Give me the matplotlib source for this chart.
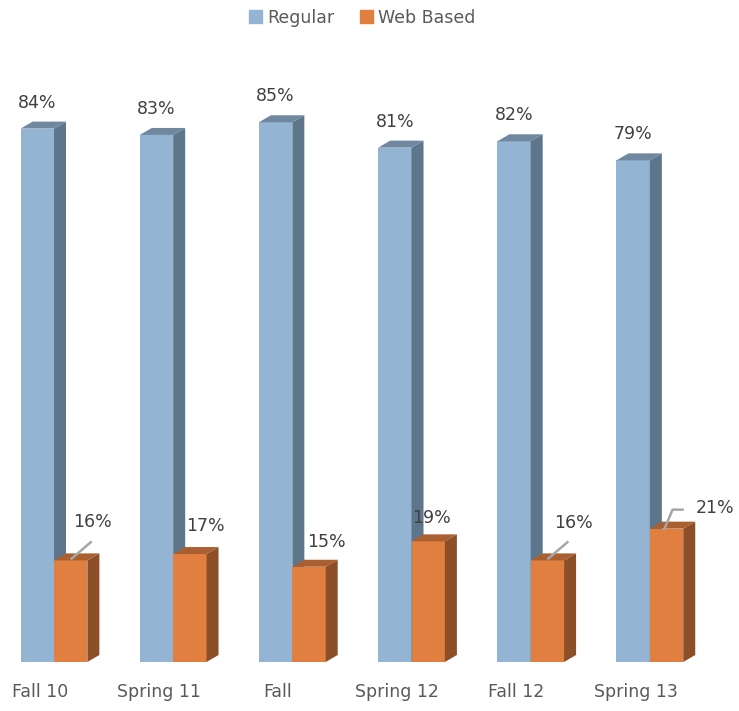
import numpy as np
import matplotlib.pyplot as plt
from matplotlib.patches import Polygon, Patch

# data
terms = ["Fall 10", "Spring 11", "Fall", "Spring 12", "Fall 12", "Spring 13"]
regular = [84, 83, 85, 81, 82, 79]
web_based = [16, 17, 15, 19, 16, 21]

# colours: front, side, top
blue = ("#93B4D2", "#5E768C", "#6F889F")
orange = ("#E07F3F", "#8C4F28", "#A95F30")

plt.rcParams['font.family'] = ['DejaVu Sans']
text_color = "#404040"

fig = plt.figure(figsize=(7.39, 7.11), dpi=100)
# axes chosen so 1 category = ~119 px and 1% = ~6.35 px
ax = fig.add_axes([0.0005, 49 / 711, 721 / 739, 635 / 711])
ax.set_xlim(-0.45, 5.6)
ax.set_ylim(0, 100)

px_x = 1 / 119.2   # one pixel in category units
px_y = 1 / 6.35    # one pixel in percent
depth_x = 12 * px_x
depth_y = 7 * px_y
width = 0.28


def bar3d(left, h, colors, z):
	"""draw a bar with a fake 3d side and top"""
	ax.bar(left, h, width, align='edge', color=colors[0], zorder=z)
	side = Polygon([(left + width, 0), (left + width + depth_x, depth_y),
	                (left + width + depth_x, h + depth_y), (left + width, h)],
	               closed=True, facecolor=colors[1], edgecolor='none', zorder=z)
	top = Polygon([(left, h), (left + depth_x, h + depth_y),
	               (left + width + depth_x, h + depth_y), (left + width, h)],
	              closed=True, facecolor=colors[2], edgecolor='none', zorder=z)
	ax.add_patch(side)
	ax.add_patch(top)


x = np.arange(len(terms))
for i in x:
	bar3d(i - width, regular[i], blue, 2 + i * 2)
	bar3d(i, web_based[i], orange, 3 + i * 2)

# regular labels sit centred above each bar
for i in x:
	ax.text(i - width / 2, regular[i] + 26 * px_y, "{}%".format(regular[i]),
	        ha='center', va='center', fontsize=12.5, color=text_color, zorder=20)

# web based labels are shifted, some with leader lines (offsets in pixels)
label_dx = [22, 16, 17, 3, 26, 49]
label_dy = [38, 28, 25, 23, 37, 21]
for i in x:
	cx = i + width / 2
	lx = cx + label_dx[i] * px_x
	ly = web_based[i] + label_dy[i] * px_y
	ax.text(lx, ly, "{}%".format(web_based[i]), ha='center', va='center',
	        fontsize=12.5, color=text_color, zorder=20)

leader_color = "#A6A6A6"
# leader lines for first and fifth 16%
for i in [0, 4]:
	cx = i + width / 2
	ax.plot([cx, cx + 21 * px_x], [web_based[i] + 1 * px_y, web_based[i] + 19 * px_y],
	        color=leader_color, lw=1.8, zorder=19, solid_capstyle='butt')
# leader line for 21%
cx = 5 + width / 2
ax.plot([cx - 2 * px_x, cx + 6 * px_x, cx + 16 * px_x],
        [web_based[5], web_based[5] + 19 * px_y, web_based[5] + 19 * px_y],
        color=leader_color, lw=1.8, zorder=19)

ax.set_xticks(x - 0.12)
ax.set_xticklabels(terms, fontsize=12.5, color="#595959")
ax.tick_params(axis='x', length=0, pad=15)
ax.set_yticks([])
for s in ax.spines.values():
	s.set_visible(False)

handles = [Patch(color=blue[0], label="Regular"), Patch(color=orange[0], label="Web Based")]
fig.legend(handles=handles, loc='upper center', bbox_to_anchor=(0.49, 1.01), ncol=2,
           frameon=False, fontsize=12.5, handlelength=0.75, handleheight=0.75,
           handletextpad=0.3, columnspacing=1.5, labelcolor="#595959")

fig.savefig("out.png", dpi=100)
